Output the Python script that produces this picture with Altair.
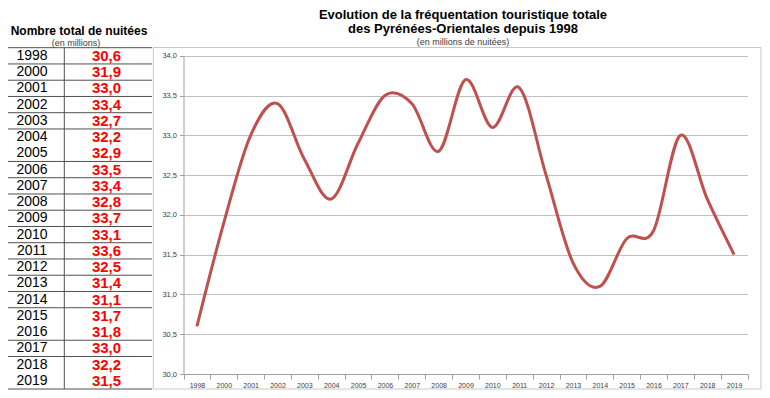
import altair as alt
import pandas as pd

# ---------------- data ----------------
years = ["1998", "2000", "2001", "2002", "2003", "2004", "2005", "2006", "2007",
         "2008", "2009", "2010", "2011", "2012", "2013", "2014", "2015", "2016",
         "2017", "2018", "2019"]
values = [30.6, 31.9, 33.0, 33.4, 32.7, 32.2, 32.9, 33.5, 33.4, 32.8, 33.7,
          33.1, 33.6, 32.5, 31.4, 31.1, 31.7, 31.8, 33.0, 32.2, 31.5]
y_ticks = [30.0, 30.5, 31.0, 31.5, 32.0, 32.5, 33.0, 33.5, 34.0]

table_title = "Nombre total de nuitées"
table_subtitle = "(en millions)"
chart_title_1 = "Evolution de la fréquentation touristique totale"
chart_title_2 = "des Pyrénées-Orientales depuis 1998"
chart_subtitle = "(en millions de nuitées)"

# row boundaries (index of the row below the boundary) that have no rule
missing_rules = [6, 17, 20]

# ---------------- style ----------------
FONT = "Liberation Sans"
W, H = 754, 382
LINE_COLOR = "#C0504D"
TABLE_TOP, TABLE_BOTTOM = 39.7, 381.0

df = pd.DataFrame({"year": years, "value": values, "row": list(range(len(years)))})
rules_df = pd.DataFrame({"k": [k - 0.5 for k in range(len(years) + 1) if k not in missing_rules]})
one = pd.DataFrame({"a": [0]})

table_y = alt.Scale(domain=[-0.5, len(years) - 0.5], range=[TABLE_TOP, TABLE_BOTTOM])

base = alt.Chart(df)

frame = alt.Chart(one).mark_rect(filled=False, stroke="#c8c8c8", strokeWidth=1).encode(
    x=alt.value(145.3), x2=alt.value(753), y=alt.value(39.5), y2=alt.value(381)
)

row_rules = alt.Chart(rules_df).mark_rule(color="#505050", strokeWidth=1).encode(
    x=alt.value(0), x2=alt.value(144),
    y=alt.Y("k:Q", scale=table_y, axis=None)
)

col_rule = alt.Chart(one).mark_rule(color="#505050", strokeWidth=1).encode(
    x=alt.value(56.3), y=alt.value(TABLE_TOP), y2=alt.value(TABLE_BOTTOM)
)

years_text = base.mark_text(font=FONT, fontSize=14, color="#000000",
                            align="center", baseline="middle").encode(
    x=alt.value(24),
    y=alt.Y("row:Q", scale=table_y, axis=None),
    text="year:N"
)

values_text = base.transform_calculate(
    label="replace(format(datum.value, '.1f'), '.', ',')"
).mark_text(font=FONT, fontSize=15, fontWeight="bold", color="#FF0000",
            align="center", baseline="middle").encode(
    x=alt.value(98.5),
    y=alt.Y("row:Q", scale=table_y, axis=None),
    text="label:N"
)

def label(txt, x, y, size, bold=False, color="#000000"):
    return alt.Chart(pd.DataFrame({"t": [txt]})).mark_text(
        font=FONT, fontSize=size, fontWeight="bold" if bold else "normal",
        color=color, align="center", baseline="middle"
    ).encode(x=alt.value(x), y=alt.value(y), text="t:N")

texts = [
    label(table_title, 71, 23, 12, bold=True),
    label(table_subtitle, 68, 35.3, 9, color="#404040"),
    label(chart_title_1, 455, 6.8, 13, bold=True),
    label(chart_title_2, 455, 21, 13, bold=True),
    label(chart_subtitle, 455, 34.3, 9, color="#404040"),
]

line = base.mark_line(color=LINE_COLOR, strokeWidth=3, interpolate="cardinal").encode(
    x=alt.X("year:O", sort=None,
            scale=alt.Scale(type="band", paddingInner=0, paddingOuter=0, range=[175.5, 739.5]),
            axis=alt.Axis(title=None, labelAngle=0, tickBand="extent", grid=False,
                          offset=-16, orient="bottom", labelFontSize=7, labelColor="#404040",
                          labelFont=FONT, labelPadding=2, tickSize=5,
                          domainColor="#a0a0a0", tickColor="#a0a0a0")),
    y=alt.Y("value:Q",
            scale=alt.Scale(domain=[30, 34], range=[366, 47.8], zero=False, nice=False),
            axis=alt.Axis(title=None, values=y_ticks, orient="left", offset=-175.5,
                          labelExpr="replace(format(datum.value, '.1f'), '.', ',')",
                          labelFontSize=7.5, labelColor="#404040", labelFont=FONT,
                          labelPadding=3, tickSize=4, grid=True, gridColor="#c0c0c0",
                          domainColor="#a0a0a0", tickColor="#a0a0a0"))
)

chart = alt.layer(
    frame, row_rules, col_rule, years_text, values_text, line, *texts
).resolve_scale(y="independent").properties(
    width=W, height=H, padding=0,
    autosize=alt.AutoSizeParams(type="none")
).configure_view(stroke=None)

chart.save("out.html", embed_options={"renderer": "svg", "actions": False})
